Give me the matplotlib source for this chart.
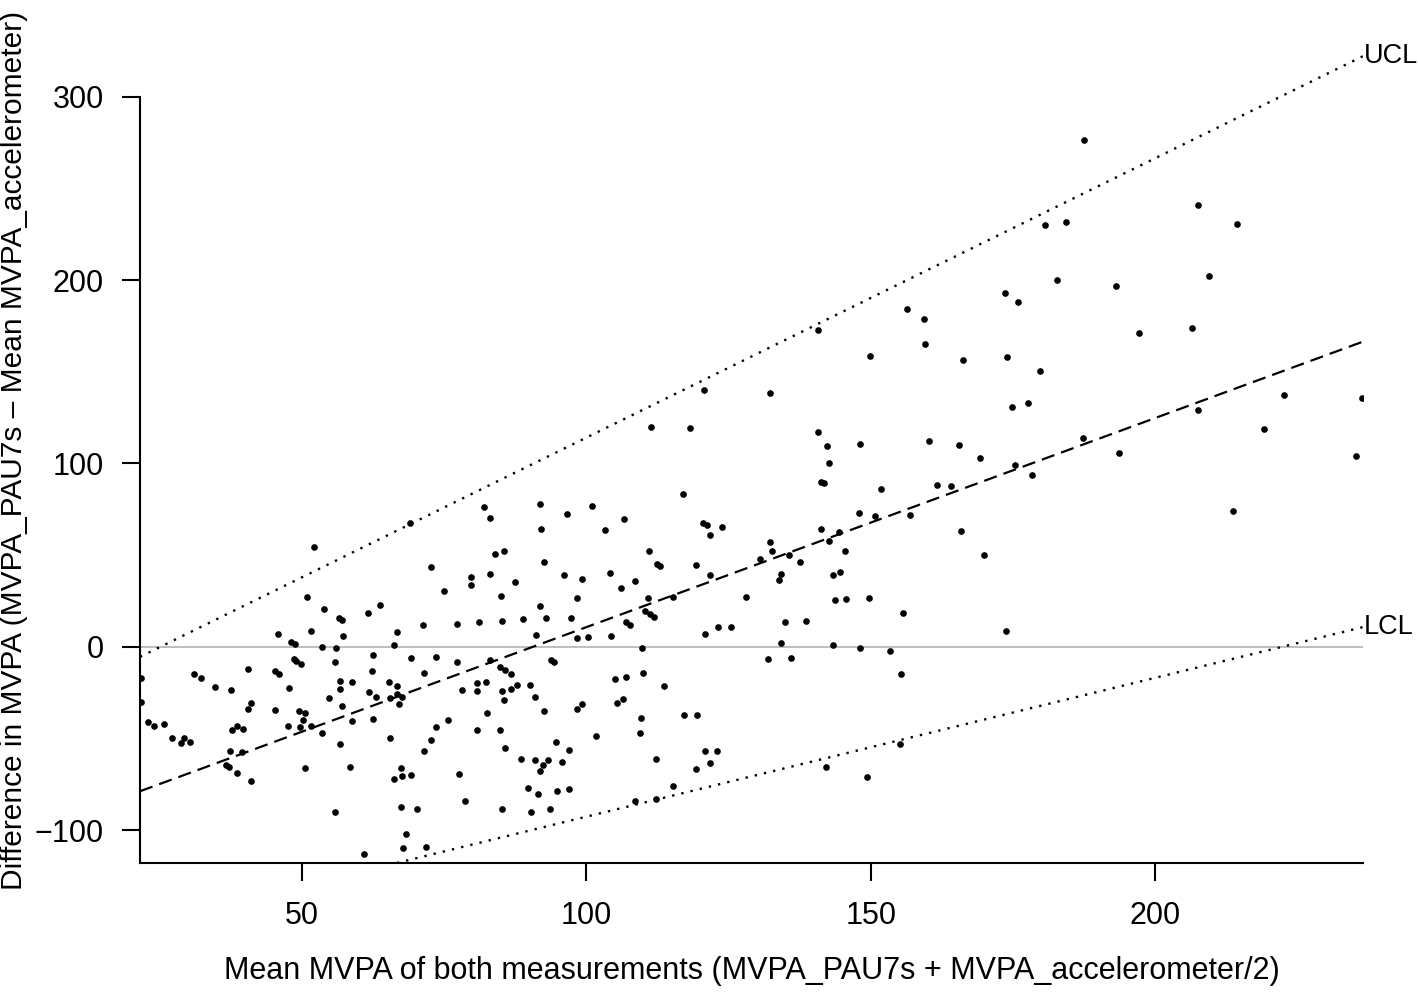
import numpy as np
import matplotlib
matplotlib.use('Agg')
import matplotlib.pyplot as plt

plt.rcParams['font.family'] = ['Liberation Sans', 'DejaVu Sans']

mean_mvpa = [
    21.6, 21.6, 52.1, 69.0, 72.6, 75.0, 50.8, 53.9, 56.4, 57.0,
    61.6, 63.7, 45.8, 51.5, 57.2, 66.7, 71.2, 77.2, 48.0, 48.8,
    53.5, 56.0, 66.2, 62.4, 69.2, 73.5, 77.2, 48.5, 48.9, 49.8,
    55.7, 40.4, 45.2, 45.9, 62.3, 31.0, 32.2, 34.7, 37.5, 47.7,
    71.4, 78.1, 40.4, 41.0, 45.2, 49.5, 50.5, 54.7, 56.6, 56.7,
    58.7, 57.0, 61.7, 63.0, 65.3, 66.6, 65.5, 66.6, 67.5, 67.0,
    22.9, 23.9, 25.6, 27.1, 28.6, 29.2, 30.2, 37.7, 38.6, 39.5,
    47.5, 49.6, 50.2, 51.6, 53.5, 58.7, 62.5, 37.3, 39.4, 36.5,
    37.2, 38.6, 41.0, 50.4, 56.6, 58.4, 65.5, 71.4, 72.6, 73.5,
    75.6, 77.5, 78.6, 66.1, 67.5, 69.1, 67.4, 55.8, 67.4, 70.1,
    68.2, 67.8, 71.7, 60.9, 117.0, 81.9, 83.0, 91.8, 92.0, 96.6,
    101.0, 103.3, 106.6, 120.5, 121.2, 121.8, 123.8, 83.9, 85.5, 92.6,
    111.0, 112.4, 113.0, 119.2, 130.6, 79.6, 79.6, 83.0, 87.4, 96.1,
    99.3, 104.2, 106.1, 108.5, 121.8, 85.0, 98.3, 110.9, 115.2, 128.0,
    91.8, 110.3, 111.2, 111.8, 81.1, 85.2, 88.8, 92.9, 97.3, 106.9,
    107.6, 91.1, 98.4, 100.2, 104.4, 120.9, 123.2, 125.4, 109.8, 83.0,
    93.7, 94.2, 84.8, 85.7, 86.7, 80.8, 80.8, 82.4, 85.1, 85.5,
    86.8, 87.7, 90.0, 90.9, 92.5, 82.5, 80.7, 84.8, 85.7, 88.5,
    90.9, 92.3, 91.9, 93.3, 94.6, 95.7, 96.9, 98.3, 99.2, 101.7,
    105.1, 106.9, 110.0, 113.7, 105.3, 106.4, 109.6, 109.5, 117.1, 119.5,
    112.2, 120.9, 122.9, 119.3, 121.7, 89.8, 91.5, 94.9, 96.9, 85.2,
    90.3, 93.6, 115.2, 108.6, 112.3, 111.3, 118.2, 120.6, 132.2, 140.7,
    149.9, 156.4, 159.4, 159.5, 166.3, 173.6, 173.9, 175.9, 179.8, 174.8,
    177.6, 140.7, 142.4, 142.7, 141.3, 141.8, 148.2, 160.3, 165.6, 169.3,
    187.4, 175.4, 178.3, 151.8, 161.7, 164.1, 147.9, 150.8, 157.0, 165.8,
    170.0, 141.3, 144.4, 142.6, 145.5, 132.3, 132.7, 135.7, 137.6, 133.9,
    134.3, 143.4, 144.6, 143.8, 145.7, 149.7, 134.9, 138.7, 155.7, 173.8,
    134.2, 143.3, 148.2, 153.4, 132.0, 135.9, 155.4, 155.1, 142.1, 149.3,
    187.6, 207.5, 214.5, 180.7, 184.3, 182.8, 193.1, 209.6, 197.2, 206.5,
    207.6, 222.7, 236.5, 193.7, 219.1, 235.3, 213.8,
]
diff_mvpa = [
    -17.3, -30.0, 54.4, 67.6, 43.5, 30.4, 27.1, 20.7, 15.8, 14.7,
    18.5, 22.7, 6.9, 8.6, 5.7, 8.2, 11.8, 12.5, 2.6, 1.5,
    0.0, -0.7, 0.9, -4.5, -6.0, -5.6, -8.5, -6.9, -7.8, -9.4,
    -8.5, -12.2, -13.3, -14.9, -13.0, -14.7, -16.9, -22.1, -23.6, -22.5,
    -14.2, -23.5, -33.8, -30.5, -34.5, -34.9, -36.2, -27.8, -23.1, -18.7,
    -19.1, -32.5, -24.9, -27.3, -19.1, -21.6, -28.1, -26.0, -27.4, -31.3,
    -41.2, -43.4, -42.3, -50.0, -52.5, -49.6, -51.8, -45.3, -43.1, -45.1,
    -43.4, -43.8, -40.1, -43.1, -46.9, -40.5, -39.4, -57.1, -57.6, -64.5,
    -65.6, -68.7, -73.3, -66.3, -53.2, -65.5, -49.6, -56.9, -50.9, -44.0,
    -39.8, -69.3, -84.4, -72.0, -70.7, -69.8, -66.3, -90.2, -87.3, -88.7,
    -102.2, -109.8, -109.3, -113.1, 83.3, 76.4, 70.0, 78.0, 64.4, 72.6,
    76.8, 63.5, 69.7, 67.6, 66.2, 60.9, 65.5, 50.6, 52.0, 46.4,
    52.4, 44.9, 43.9, 44.4, 47.7, 37.9, 33.8, 39.5, 35.3, 39.1,
    37.1, 40.2, 32.2, 35.8, 39.1, 27.5, 26.7, 26.7, 27.1, 27.1,
    22.4, 19.5, 17.7, 16.4, 13.5, 14.2, 15.3, 15.8, 15.5, 13.5,
    11.8, 6.4, 4.7, 5.5, 5.7, 6.9, 10.9, 10.9, -0.7, -7.4,
    -7.3, -8.3, -11.2, -12.7, -14.9, -20.0, -24.3, -19.1, -24.3, -29.2,
    -23.2, -20.9, -20.9, -27.3, -34.9, -36.3, -45.6, -45.3, -55.4, -61.1,
    -61.6, -64.4, -67.6, -62.0, -51.8, -62.7, -56.5, -33.8, -31.3, -48.9,
    -17.5, -16.7, -14.2, -21.6, -30.5, -28.4, -39.1, -47.2, -37.1, -37.4,
    -61.4, -57.1, -57.1, -66.9, -63.4, -76.9, -80.2, -78.6, -77.8, -88.7,
    -90.3, -88.4, -75.8, -84.0, -83.1, 120.0, 119.5, 140.2, 138.4, 172.9,
    158.7, 184.4, 178.6, 165.3, 156.2, 192.8, 157.9, 187.9, 150.6, 130.6,
    133.1, 117.1, 109.5, 100.4, 89.8, 89.3, 110.7, 112.2, 110.2, 102.9,
    113.8, 99.1, 93.5, 86.2, 88.2, 87.5, 73.1, 71.3, 71.7, 63.0,
    50.0, 64.4, 62.7, 57.8, 52.0, 57.0, 52.0, 50.0, 46.2, 36.5,
    39.8, 39.3, 40.7, 25.5, 25.9, 26.4, 13.3, 14.2, 18.5, 8.4,
    1.9, 0.8, -0.5, -2.5, -6.9, -6.2, -15.1, -52.9, -65.5, -71.2,
    276.4, 240.7, 230.8, 230.3, 231.6, 200.0, 196.7, 202.4, 171.4, 173.9,
    129.3, 137.5, 135.9, 105.6, 118.8, 103.8, 74.2,
]

# regression of difference on mean, and of the limits of agreement
bias_intercept, bias_slope = -103.3, 1.140
loa_intercept, loa_slope = 65.1, 0.383

xlim = (21.45, 236.6)
ylim = (-118.0, 332.6)

fig = plt.figure(figsize=(14.18, 9.92), dpi=100)
ax = fig.add_axes([0.0987, 0.1300, 0.8625, 0.8327])

xs = np.array(xlim)
bias = bias_intercept + bias_slope * xs
half = loa_intercept + loa_slope * xs
ucl = bias + half
lcl = bias - half

ax.axhline(0, color='#bebebe', lw=1.4, zorder=1)
ax.plot(xs, bias, color='black', lw=1.6, linestyle=(0, (6, 3.2)), zorder=2)
ax.plot(xs, ucl, color='black', lw=1.7, linestyle=(0, (1, 3)), zorder=2)
ax.plot(xs, lcl, color='black', lw=1.7, linestyle=(0, (1, 3)), zorder=2)
ax.plot(mean_mvpa, diff_mvpa, 'o', color='black', ms=4.8, mew=0, zorder=3)

ax.text(xs[-1] + 0.2, ucl[-1], 'UCL', fontsize=19.5, ha='left', va='center', clip_on=False)
ax.text(xs[-1] + 0.2, lcl[-1], 'LCL', fontsize=19.5, ha='left', va='center', clip_on=False)

ax.set_xlim(xlim)
ax.set_ylim(ylim)
ax.set_xticks([50, 100, 150, 200])
ax.set_yticks([-100, 0, 100, 200, 300])
for s in ['top', 'right']:
    ax.spines[s].set_visible(False)
ax.spines['left'].set_bounds(ylim[0], 300)
ax.spines['left'].set_linewidth(1.5)
ax.spines['bottom'].set_linewidth(1.5)
ax.tick_params(axis='both', direction='out', length=13, width=1.5, labelsize=22)
ax.tick_params(axis='x', pad=14)
ax.tick_params(axis='y', pad=13)

ax.set_xlabel('Mean MVPA of both measurements (MVPA_PAU7s + MVPA_accelerometer/2)', fontsize=22, labelpad=18)
ax.set_ylabel('Difference in MVPA (MVPA_PAU7s \u2013 Mean MVPA_accelerometer)', fontsize=21.5)
ax.yaxis.set_label_coords(-0.0916, 0.5)

plt.savefig('out.png')
